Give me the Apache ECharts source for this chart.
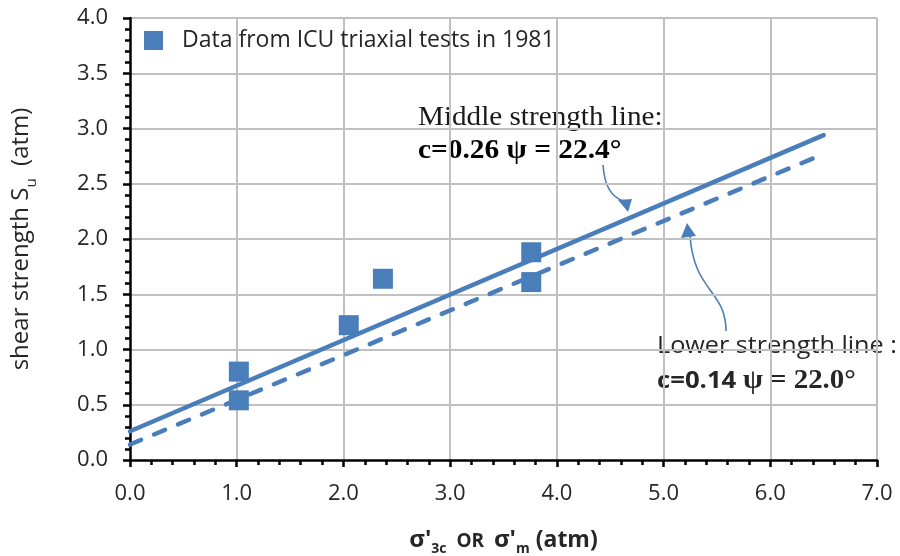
<!DOCTYPE html>
<html>
<head>
<meta charset="utf-8">
<script src="https://cdn.jsdelivr.net/npm/echarts@6/dist/echarts.min.js"></script>
<style>
html,body{margin:0;padding:0;background:#fff;}
#chart{width:900px;height:556px;}
</style>
</head>
<body>
<div id="chart"></div>
<script>
// ---- data ----
var testX = [1.02, 1.02, 2.05, 2.37, 3.76, 3.76];
var testY = [0.80, 0.54, 1.22, 1.64, 1.88, 1.61];
var middleLineX = [0, 6.5];
var middleLineY = [0.26, 2.94];
var lowerLineX = [0, 6.5];
var lowerLineY = [0.14, 2.77];
var legendLabel = 'Data from ICU triaxial tests in 1981';

var BLUE = '#4a7ebb';
var pair = function (xs, ys) { return xs.map(function (x, i) { return [x, ys[i]]; }); };

var chart = echarts.init(document.getElementById('chart'));
var sansFont = '"Open Sans", "Noto Sans", sans-serif';
var serifFont = '"Liberation Serif", "DejaVu Serif", serif';

chart.setOption({
  animation: false,
  backgroundColor: '#fff',
  grid: { left: 130, right: 23, top: 18, bottom: 96, containLabel: false, outerBoundsMode: 'none' },
  legend: {
    data: [legendLabel],
    left: 139, top: 24,
    icon: 'rect', itemWidth: 19, itemHeight: 19, itemGap: 10,
    textStyle: { fontFamily: sansFont, fontSize: 23, color: '#262626', padding: [0, 0, 0, 14] }
  },
  xAxis: {
    type: 'value', min: 0, max: 7, interval: 1,
    axisLine: { onZero: false, lineStyle: { color: '#000', width: 2.5 } },
    axisTick: { show: true, length: 7, lineStyle: { color: '#000', width: 2.5 } },
    minorTick: { show: true, splitNumber: 5, length: 5, lineStyle: { color: '#000', width: 2.5 } },
    splitLine: { show: true, showMinLine: false, lineStyle: { color: '#c0c0c0', width: 2 } },
    axisLabel: { formatter: function (v) { return v.toFixed(1); }, fontFamily: sansFont, fontSize: 22, color: '#262626', margin: 23 },
    name: "{g|σ'}{s|3c}{o|  OR  }{g|σ'}{s|m}{b| (atm)}",
    nameLocation: 'middle', nameGap: 68,
    nameTextStyle: {
      rich: {
        g: { fontFamily: sansFont, fontWeight: 'bold', fontSize: 24, color: '#262626', verticalAlign: 'bottom' },
        o: { fontFamily: sansFont, fontWeight: 'bold', fontSize: 19, color: '#262626', verticalAlign: 'bottom', padding: [0, 0, 1, 0] },
        b: { fontFamily: sansFont, fontWeight: 'bold', fontSize: 23, color: '#262626', verticalAlign: 'bottom' },
        s: { fontFamily: sansFont, fontWeight: 'bold', fontSize: 14, color: '#262626', verticalAlign: 'bottom', padding: [0, 0, -4, 0] }
      }
    }
  },
  yAxis: {
    type: 'value', min: 0, max: 4, interval: 0.5,
    axisLine: { onZero: false, lineStyle: { color: '#000', width: 2.5 } },
    axisTick: { show: true, length: 7, lineStyle: { color: '#000', width: 2.5 } },
    minorTick: { show: true, splitNumber: 5, length: 5, lineStyle: { color: '#000', width: 2.5 } },
    splitLine: { show: true, showMinLine: false, lineStyle: { color: '#c0c0c0', width: 2 } },
    axisLabel: { formatter: function (v) { return v.toFixed(1); }, fontFamily: sansFont, fontSize: 22, color: '#262626', margin: 22 },
    name: '{t|shear strength S}{s|u}{t|  (atm)}',
    nameLocation: 'middle', nameGap: 97,
    nameTextStyle: {
      rich: {
        t: { fontFamily: sansFont, fontSize: 24, color: '#262626', verticalAlign: 'bottom' },
        s: { fontFamily: sansFont, fontSize: 15, color: '#262626', verticalAlign: 'bottom', padding: [0, 0, -6, 0] }
      }
    }
  },
  series: [
    {
      name: 'middle', type: 'line', data: pair(middleLineX, middleLineY),
      showSymbol: false, symbol: 'none', lineStyle: { color: BLUE, width: 4.5, cap: 'round' }, z: 3
    },
    {
      name: 'lower', type: 'line', data: pair(lowerLineX, lowerLineY),
      showSymbol: false, symbol: 'none', lineStyle: { color: BLUE, width: 4.5, type: [12, 14], cap: 'round' }, z: 3
    },
    {
      name: legendLabel, type: 'scatter', data: pair(testX, testY),
      symbol: 'rect', symbolSize: 20, itemStyle: { color: BLUE, opacity: 1 }, z: 4
    }
  ],
  graphic: [
    { type: 'text', x: 418, y: 104, scaleX: 1.08, style: { text: 'Middle strength line:', font: '27px ' + serifFont, fill: '#1a1a1a' } },
    { type: 'text', x: 418, y: 137, scaleX: 1.05, style: { text: 'c=0.26 ψ = 22.4°', font: 'bold 28px ' + serifFont, fill: '#000' } },
    { type: 'text', x: 657, y: 334, scaleX: 1.05, style: { text: 'Lower strength line :', font: '24px ' + sansFont, fill: '#262626' } },
    { type: 'text', x: 657, y: 368, scaleX: 1.07, style: {
        text: '{a|c=0.14 }{b|ψ = 22.0°}',
        rich: {
          a: { fontFamily: sansFont, fontWeight: 'bold', fontSize: 24, fill: '#262626' },
          b: { fontFamily: serifFont, fontWeight: 'bold', fontSize: 27, fill: '#262626' }
        }
      } },
    { type: 'bezierCurve', shape: { x1: 603, y1: 165, x2: 624, y2: 201, cpx1: 605, cpy1: 196 }, style: { stroke: BLUE, lineWidth: 1.6, fill: null } },
    { type: 'polygon', shape: { points: [[628, 212], [618, 200], [632, 199]] }, style: { fill: BLUE } },
    { type: 'bezierCurve', shape: { x1: 726, y1: 331, x2: 690, y2: 236, cpx1: 726, cpy1: 290, cpx2: 694, cpy2: 292 }, style: { stroke: BLUE, lineWidth: 1.6, fill: null } },
    { type: 'polygon', shape: { points: [[687, 223], [681, 238], [696, 236]] }, style: { fill: BLUE } }
  ]
});
</script>
</body>
</html>
